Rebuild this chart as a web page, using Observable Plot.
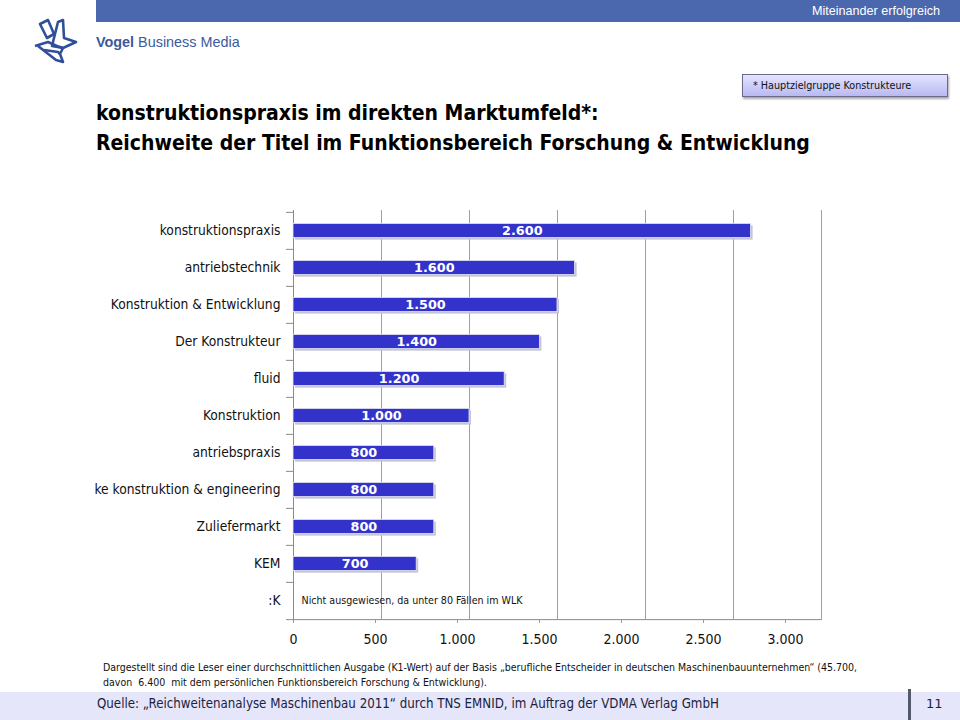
<!DOCTYPE html>
<html>
<head>
<meta charset="utf-8">
<script src="https://cdn.jsdelivr.net/npm/d3@7"></script>
<script src="https://cdn.jsdelivr.net/npm/@observablehq/plot@0.6"></script>
<style>
  html, body { margin: 0; padding: 0; background: #fff; }
  #page { position: relative; width: 960px; height: 720px; overflow: hidden; background: #fff; }
  .abs { position: absolute; white-space: nowrap; }
  #band { left: 96px; top: 0; width: 864px; height: 22px; background: #4b67ae; }
  #band span { position: absolute; right: 20px; top: 4px; color: #fff; font: 12.6px "Liberation Sans", Arial, sans-serif; }
  #brand { left: 96px; top: 34px; color: #3b5a9b; font: 14.4px "Liberation Sans", Arial, sans-serif; }
  #brand b { font-weight: bold; }
  #box { left: 742px; top: 74px; width: 204px; height: 21px; border: 1px solid #6a6a8a;
         background: linear-gradient(#e4e4ff, #b9b9f2); box-shadow: 1px 2px 2px rgba(0,0,0,0.35);
         font: 10.7px "DejaVu Sans Condensed", sans-serif; line-height: 21px; color: #111; }
  #box span { padding-left: 10px; }
  #title { left: 96px; top: 98px; color: #000; font: bold 21px "DejaVu Sans Condensed", sans-serif; line-height: 30px; }
  #note { left: 103px; top: 660px; color: #111; font: 10.5px "DejaVu Sans Condensed", sans-serif; line-height: 15px; }
  #footer { left: 0; top: 692px; width: 960px; height: 28px; background: #e6e6fb; }
  #source { left: 97px; top: 696px; color: #1a2240; font: 13.2px "DejaVu Sans Condensed", sans-serif; }
  #sep { left: 908px; top: 689px; width: 3px; height: 31px; background: #555a6a; }
  #pg { left: 926px; top: 696px; color: #1a2240; font: 13px "DejaVu Sans", sans-serif; }
  #chart { left: 0; top: 200px; }
  #xaxis { left: 0; top: 618px; }
</style>
</head>
<body>
<div id="page">
  <div id="band" class="abs"><span>Miteinander erfolgreich</span></div>
  <svg class="abs" style="left:30px;top:16px" width="50" height="50" viewBox="0 0 50 50">
    <g fill="none" stroke="#2f4f9b" stroke-width="2.6" stroke-linejoin="round">
      <path d="M10 8 L18 4 L24 18 L17 22 Z"/>
      <path d="M28 6 L33 4 L34 22 L46 26 L33 32 L22 30 Z"/>
      <path d="M5 30 L18 26 L27 30 L33 32"/>
      <path d="M8 30 L26 44 L33 46 L30 38 L33 32"/>
      <path d="M14 34 L28 36 L30 38"/>
    </g>
  </svg>
  <div id="brand" class="abs"><b>Vogel</b> Business Media</div>
  <div id="box" class="abs"><span>* Hauptzielgruppe Konstrukteure</span></div>
  <div id="title" class="abs">konstruktionspraxis im direkten Marktumfeld*:<br>Reichweite der Titel im Funktionsbereich Forschung &amp; Entwicklung</div>
  <div id="chart" class="abs"></div>
  <div id="xaxis" class="abs"></div>
  <div id="note" class="abs">Dargestellt sind die Leser einer durchschnittlichen Ausgabe (K1-Wert) auf der Basis „berufliche Entscheider in deutschen Maschinenbauunternehmen“ (45.700,<br>davon&nbsp; 6.400&nbsp; mit dem persönlichen Funktionsbereich Forschung &amp; Entwicklung).</div>
  <div id="footer" class="abs"></div>
  <div id="source" class="abs">Quelle: „Reichweitenanalyse Maschinenbau 2011“ durch TNS EMNID, im Auftrag der VDMA Verlag GmbH</div>
  <div id="sep" class="abs"></div>
  <div id="pg" class="abs">11</div>
</div>
<script>
// ---- data ----
const categories = [
  "konstruktionspraxis",
  "antriebstechnik",
  "Konstruktion & Entwicklung",
  "Der Konstrukteur",
  "fluid",
  "Konstruktion",
  "antriebspraxis",
  "ke konstruktion & engineering",
  "Zuliefermarkt",
  "KEM",
  ":K"
];
const values = [2600, 1600, 1500, 1400, 1200, 1000, 800, 800, 800, 700, null];
const noteCategory = [":K"];
const noteText = ["Nicht ausgewiesen, da unter 80 Fällen im WLK"];
const xTicks = [0, 500, 1000, 1500, 2000, 2500, 3000];

// ---- build tables ----
const de = d3.formatLocale({decimal: ",", thousands: ".", grouping: [3], currency: ["", " €"]});
const fmt = de.format(",");
const bars = categories.map((name, i) => ({name, value: values[i]})).filter(d => d.value != null);
const notes = noteCategory.map((name, i) => ({name, note: noteText[i]}));

const H = 430, MT = 10, MB = 10;
const bw = (H - MT - MB) / categories.length;
const inset = (bw - 14.5) / 2;
const font = "'DejaVu Sans Condensed', 'DejaVu Sans', sans-serif";

const chart = Plot.plot({
  width: 840, height: H,
  marginLeft: 293, marginRight: 19, marginTop: MT, marginBottom: MB,
  x: {domain: [0, 3000], axis: null},
  y: {domain: categories, padding: 0, axis: null},
  style: {fontFamily: font, fontSize: "14px", background: "transparent", color: "#111", overflow: "visible"},
  marks: [
    Plot.gridX(xTicks, {stroke: "#a0a0a0", strokeOpacity: 1, strokeWidth: 1}),
    Plot.ruleX([0], {stroke: "#8a8a8a"}),
    Plot.ruleY([categories[categories.length - 1]], {x1: 0, x2: 3000, dy: bw / 2, stroke: "#8a8a8a"}),
    Plot.axisY({tickSize: 7, tickFormat: () => "", dy: -bw / 2, stroke: "#8a8a8a", strokeWidth: 1, label: null}),
    Plot.axisY({ticks: [categories[categories.length - 1]], tickSize: 7, tickFormat: () => "", dy: bw / 2, stroke: "#8a8a8a", strokeWidth: 1, label: null}),
    Plot.axisY({tickSize: 0, tickPadding: 13, fontSize: 13.7, fill: "#111", label: null}),
    Plot.barX(bars, {x: "value", y: "name", fill: "#c4c4d4", dx: 2, dy: 2, insetTop: inset, insetBottom: inset}),
    Plot.barX(bars, {x: "value", y: "name", fill: "#3333cc", stroke: "#e8e8f4", strokeWidth: 0.8, insetTop: inset, insetBottom: inset}),
    Plot.text(bars, {x: d => d.value / 2, y: "name", text: d => fmt(d.value), fill: "white",
      fontWeight: "bold", fontSize: 12.8, fontFamily: "'DejaVu Sans', sans-serif"}),
    Plot.text(notes, {y: "name", text: "note", frameAnchor: "left", textAnchor: "start", dx: 8,
      fontSize: 10.6, fill: "#111"})
  ]
});
document.getElementById("chart").appendChild(chart);

const axis = Plot.plot({
  width: 840, height: 40,
  marginLeft: 293, marginRight: 55, marginTop: 0, marginBottom: 38,
  x: {domain: [0, 3000], axis: null},
  style: {fontFamily: font, fontSize: "14px", background: "transparent", color: "#111", overflow: "visible"},
  marks: [
    Plot.axisX(xTicks, {anchor: "bottom", tickSize: 3, tickPadding: 11, tickFormat: fmt, stroke: "#9a9a9a", fill: "#111", fontSize: 14, label: null})
  ]
});
document.getElementById("xaxis").appendChild(axis);
</script>
</body>
</html>
